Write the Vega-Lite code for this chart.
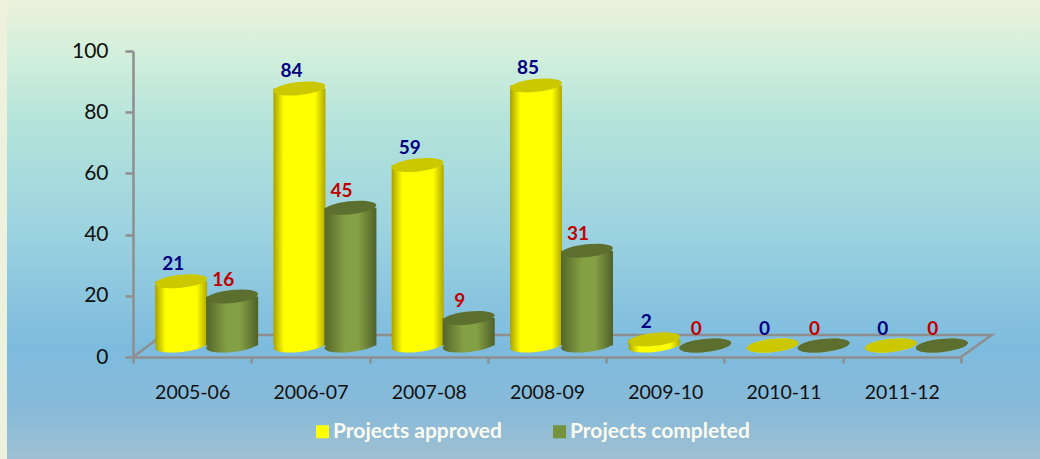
{"$schema":"https://vega.github.io/schema/vega-lite/v6.json","width":1033,"height":459,"autosize":{"type":"none"},"padding":{"left":7,"top":0,"right":0,"bottom":0},"background":"#eef2dd","view":{"stroke":null,"fill":{"gradient":"linear","x1":0,"y1":0,"x2":0,"y2":1,"stops":[{"offset":0,"color":"#ecf2dc"},{"offset":0.12,"color":"#d2efdc"},{"offset":0.27,"color":"#b4e3da"},{"offset":0.5,"color":"#9cd3e0"},{"offset":0.76,"color":"#7dbbde"},{"offset":0.9,"color":"#89bad8"},{"offset":1,"color":"#9fc0d2"}]}},"config":{"font":"Lato"},"data":{"values":[{"period":"2005-06","series":"Projects approved","value":21},{"period":"2005-06","series":"Projects completed","value":16},{"period":"2006-07","series":"Projects approved","value":84},{"period":"2006-07","series":"Projects completed","value":45},{"period":"2007-08","series":"Projects approved","value":59},{"period":"2007-08","series":"Projects completed","value":9},{"period":"2008-09","series":"Projects approved","value":85},{"period":"2008-09","series":"Projects completed","value":31},{"period":"2009-10","series":"Projects approved","value":2},{"period":"2009-10","series":"Projects completed","value":0},{"period":"2010-11","series":"Projects approved","value":0},{"period":"2010-11","series":"Projects completed","value":0},{"period":"2011-12","series":"Projects approved","value":0},{"period":"2011-12","series":"Projects completed","value":0}]},"resolve":{"scale":{"x":"independent"}},"layer":[{"data":{"values":[{"k":1,"u":0,"v":0},{"k":2,"u":0.25,"v":7.2},{"k":3,"u":7.26,"v":7.2},{"k":4,"u":7,"v":0}]},"mark":{"type":"line","stroke":"#8e8e8e","strokeWidth":2.5},"encoding":{"order":{"field":"k","type":"ordinal"},"x":{"field":"u","type":"quantitative","scale":{"domain":[0,7],"range":[126,954],"nice":false,"zero":false},"axis":null},"y":{"field":"v","type":"quantitative","scale":{"domain":[0,100],"range":[357,51],"nice":false},"axis":{"orient":"left","offset":-126,"values":[0,20,40,60,80,100],"title":null,"grid":false,"domainColor":"#8e8e8e","domainWidth":2.5,"tickColor":"#8e8e8e","tickWidth":2.5,"tickSize":8,"labelFont":"Lato","labelFontSize":21,"labelColor":"#111111","labelPadding":17}}}},{"encoding":{"x":{"field":"period","type":"nominal","sort":null,"scale":{"type":"band","range":[126,954],"paddingInner":0,"paddingOuter":0},"axis":{"orient":"bottom","offset":-102,"title":null,"grid":false,"tickBand":"extent","domainColor":"#8e8e8e","domainWidth":2.5,"tickColor":"#8e8e8e","tickWidth":2.5,"tickSize":6,"labelAngle":0,"labelFont":"Lato","labelFontSize":19.5,"labelColor":"#111111","labelPadding":20}},"y":{"field":"value","type":"quantitative","stack":null,"scale":{"domain":[0,100],"range":[357,51],"nice":false}}},"layer":[{"mark":{"type":"point","filled":true,"opacity":1},"encoding":{"size":{"value":0},"color":{"field":"series","type":"nominal","scale":{"domain":["Projects approved","Projects completed"],"range":["#ffff00","#76923c"]},"legend":{"orient":"none","legendX":305,"legendY":421,"direction":"horizontal","title":null,"symbolType":"square","symbolSize":170,"symbolOpacity":1,"symbolStrokeWidth":0,"labelFont":"Lato","labelFontSize":21,"labelFontWeight":"bold","labelColor":"#fbfbf0","labelLimit":300,"columnPadding":47,"labelOffset":0}}}},{"transform":[{"filter":"datum.series==='Projects approved'"}],"layer":[{"mark":{"type":"point","filled":true,"opacity":1,"size":2704,"angle":-6,"xOffset":-11,"yOffset":-11.5,"shape":"M-1,0A1,0.25,0,1,1,1,0A1,0.25,0,1,1,-1,0Z","fill":{"gradient":"linear","x1":0,"y1":0,"x2":1,"y2":0,"stops":[{"offset":0,"color":"#a8a000"},{"offset":0.2,"color":"#ffff00"},{"offset":0.8,"color":"#ffff00"},{"offset":1,"color":"#b0a800"}]}},"encoding":{"y":{"datum":0}}},{"mark":{"type":"bar","width":52,"xOffset":-11,"yOffset":-11.5,"y2Offset":-11.5,"fill":{"gradient":"linear","x1":0,"y1":0,"x2":1,"y2":0,"stops":[{"offset":0,"color":"#a8a000"},{"offset":0.2,"color":"#ffff00"},{"offset":0.8,"color":"#ffff00"},{"offset":1,"color":"#b0a800"}]}},"encoding":{"y2":{"datum":0}}},{"mark":{"type":"point","filled":true,"opacity":1,"size":2704,"angle":-6,"xOffset":-11,"yOffset":-11.5,"shape":"M-1,0A1,0.25,0,1,1,1,0A1,0.25,0,1,1,-1,0Z","fill":"#cbc800"}},{"mark":{"type":"text","font":"Lato","fontWeight":"bold","fontSize":19,"color":"#000080","dx":-19,"dy":-28.5},"encoding":{"text":{"field":"value","type":"quantitative"}}}]},{"transform":[{"filter":"datum.series==='Projects completed'"}],"layer":[{"mark":{"type":"point","filled":true,"opacity":1,"size":2704,"angle":-6,"xOffset":40,"yOffset":-11.5,"shape":"M-1,0A1,0.25,0,1,1,1,0A1,0.25,0,1,1,-1,0Z","fill":{"gradient":"linear","x1":0,"y1":0,"x2":1,"y2":0,"stops":[{"offset":0,"color":"#55662a"},{"offset":0.4,"color":"#84a044"},{"offset":0.65,"color":"#84a044"},{"offset":1,"color":"#50602a"}]}},"encoding":{"y":{"datum":0}}},{"mark":{"type":"bar","width":52,"xOffset":40,"yOffset":-11.5,"y2Offset":-11.5,"fill":{"gradient":"linear","x1":0,"y1":0,"x2":1,"y2":0,"stops":[{"offset":0,"color":"#55662a"},{"offset":0.4,"color":"#84a044"},{"offset":0.65,"color":"#84a044"},{"offset":1,"color":"#50602a"}]}},"encoding":{"y2":{"datum":0}}},{"mark":{"type":"point","filled":true,"opacity":1,"size":2704,"angle":-6,"xOffset":40,"yOffset":-11.5,"shape":"M-1,0A1,0.25,0,1,1,1,0A1,0.25,0,1,1,-1,0Z","fill":"#5d6f2f"}},{"mark":{"type":"text","font":"Lato","fontWeight":"bold","fontSize":19,"color":"#c00000","dx":31,"dy":-28.5},"encoding":{"text":{"field":"value","type":"quantitative"}}}]}]}]}
